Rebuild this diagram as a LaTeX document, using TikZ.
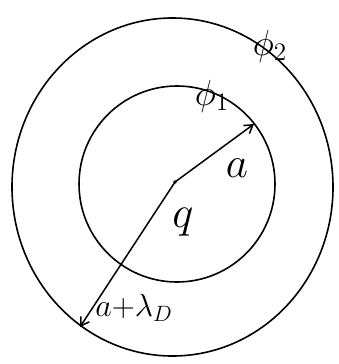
\documentclass[tikz,border=0pt]{standalone}
\usetikzlibrary{arrows.meta}
\begin{document}
\begin{tikzpicture}[x=1pt,y=-1pt,
  ring/.style={line width=1.6pt},
  radius arrow/.style={line width=1.5pt,-{Straight Barb[length=8pt,width=10pt]}},
  lbl/.style={font=\LARGE,inner sep=0pt}]
\useasboundingbox (0,0) rectangle (339,364);
\draw[ring] (172.5,187) ellipse [x radius=160.5, y radius=169];
\draw[ring] (177,184) ellipse [x radius=98, y radius=98];
\coordinate (c) at (175,182);
\fill (c) circle (1.8pt);
\coordinate (ea) at (254,124);
\coordinate (eb) at (80,327);
\draw[radius arrow] (c) -- (ea);
\draw[radius arrow] (c) -- (eb);
\node[lbl,scale=2.5] (la) at (237,168) {$a$};
\node[lbl,scale=2.6] (lq) at (183,222) {$q$};
\node[lbl,scale=1.85] (lad) at (134,308) {$a{+}\lambda_D$};
\node[lbl,scale=2.1] (p1) at (212,96) {$\phi_1$};
\node[lbl,scale=2.1] (p2) at (270,46) {$\phi_2$};
\end{tikzpicture}
\end{document}
